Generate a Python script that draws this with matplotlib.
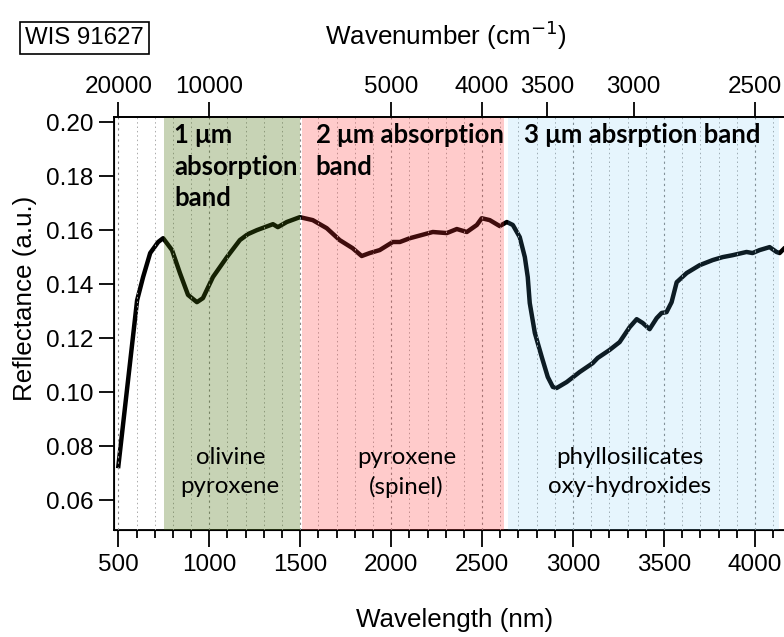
import numpy as np
import matplotlib as mpl
import matplotlib.pyplot as plt
from matplotlib.ticker import MultipleLocator

mpl.use('Agg')

# Spectrum of WIS 91627
wavelength = [500, 603, 636, 675, 719, 746, 795, 839, 883, 932, 965, 1020, 1097,
              1168, 1212, 1262, 1350, 1377, 1426, 1498, 1569, 1646, 1717, 1788,
              1838, 1882, 1937, 2009, 2048, 2103, 2229, 2306, 2361, 2416, 2471,
              2498, 2542, 2597, 2636, 2669, 2707, 2735, 2751, 2762, 2790, 2828,
              2861, 2889, 2910, 2965, 3036, 3108, 3135, 3201, 3256, 3311, 3350,
              3383, 3421, 3460, 3487, 3514, 3542, 3570, 3625, 3696, 3768, 3823,
              3877, 3954, 3987, 4026, 4081, 4119, 4136, 4158]
reflectance = [0.0726, 0.134, 0.1426, 0.1515, 0.1556, 0.157, 0.1526, 0.144, 0.136,
               0.1333, 0.1348, 0.1426, 0.150, 0.1563, 0.1585, 0.160, 0.1622, 0.1611,
               0.163, 0.1648, 0.1637, 0.1607, 0.1563, 0.1533, 0.1504, 0.1515, 0.1526,
               0.1556, 0.1556, 0.157, 0.1593, 0.1589, 0.1604, 0.1593, 0.1619, 0.1644,
               0.1637, 0.1615, 0.163, 0.1619, 0.1574, 0.150, 0.1426, 0.133, 0.1219,
               0.113, 0.1056, 0.1019, 0.1015, 0.1037, 0.1074, 0.1107, 0.1126, 0.1156,
               0.1185, 0.124, 0.127, 0.1256, 0.1233, 0.1274, 0.1293, 0.1296, 0.1333,
               0.1407, 0.1441, 0.147, 0.1489, 0.150, 0.1507, 0.1519, 0.1515, 0.1526,
               0.1537, 0.1519, 0.1515, 0.153]

# absorption band ranges (nm)
band_ranges = [(750, 1500), (1510, 2620), (2645, 4135)]
band_titles = ["1 μm\nabsorption\nband", "2 μm absorption\nband", "3 μm absrption band"]
band_title_x = [806, 1585, 2729]
band_minerals = ["olivine\npyroxene", "pyroxene\n(spinel)", "phyllosilicates\noxy-hydroxides"]
band_mineral_x = [1115, 2085, 3312]

wavenumber_ticks = [20000, 10000, 5000, 4000, 3500, 3000, 2500]
wavelength_ticks = [500, 1000, 1500, 2000, 2500, 3000, 3500, 4000]
reflectance_ticks = [0.06, 0.08, 0.10, 0.12, 0.14, 0.16, 0.18, 0.20]

band_colors = ['#47700b', '#ff3333', '#59bdf2']
band_alphas = [0.3, 0.25, 0.15]

fig = plt.figure(figsize=(7.84, 6.37), dpi=100)
ax = fig.add_axes([0.1454, 0.168, 0.8546, 0.6483])

ax.plot(wavelength, reflectance, color='black', lw=3.2, zorder=2,
        solid_joinstyle='round')

# shaded bands on top of the line (the line shows through, tinted)
for (lo, hi), c, a in zip(band_ranges, band_colors, band_alphas):
    ax.axvspan(lo, hi, color=c, alpha=a, lw=0, zorder=3)

ax.set_xlim(476, 4160)
ax.set_ylim(0.0489, 0.2019)

ax.set_xticks(wavelength_ticks)
ax.xaxis.set_minor_locator(MultipleLocator(100))
ax.set_yticks(reflectance_ticks)
ax.set_yticklabels([f"{v:.2f}" for v in reflectance_ticks])

ax.grid(which='major', axis='x', color='#888888', ls=(0, (2, 3)), lw=0.8, zorder=1)
ax.grid(which='minor', axis='x', color='#aaaaaa', ls=(0, (1.5, 3)), lw=0.7, zorder=1)
ax.set_axisbelow(False)

tick_size = 17.5
tick_font = {'family': 'Liberation Sans', 'size': tick_size}
ax.tick_params(axis='x', which='major', direction='out', length=12, width=1.3, pad=5)
ax.tick_params(axis='x', which='minor', direction='out', length=6, width=1.3)
ax.tick_params(axis='y', which='major', direction='out', length=11, width=1.3, pad=4)
for lab in ax.get_xticklabels() + ax.get_yticklabels():
    lab.set_fontfamily('Liberation Sans')
    lab.set_fontsize(tick_size)

for side in ['left', 'bottom', 'top']:
    ax.spines[side].set_linewidth(1.3)
ax.spines['right'].set_visible(False)

# top axis in wavenumber
top = ax.twiny()
top.set_xlim(ax.get_xlim())
top.set_xticks([1e7 / w for w in wavenumber_ticks])
top.set_xticklabels([str(w) for w in wavenumber_ticks], fontdict=tick_font)
top.tick_params(axis='x', direction='out', length=11, width=1.3, pad=3)
top.spines['right'].set_visible(False)
top.spines['top'].set_linewidth(1.3)

# band labels
for x, t in zip(band_title_x, band_titles):
    ax.text(x, 0.1997, t, ha='left', va='top', fontsize=18.5, fontweight='bold',
            family=['Lato', 'DejaVu Sans'], linespacing=1.38, zorder=5)
for x, t in zip(band_mineral_x, band_minerals):
    ax.text(x, 0.0703, t, ha='center', va='center', fontsize=17.3,
            family=['Lato', 'DejaVu Sans'], linespacing=1.45, zorder=5)

fig.text(0.580, 0.026, "Wavelength (nm)", ha='center', va='center',
         family='Liberation Sans', fontsize=18.7)
fig.text(0.032, 0.532, "Reflectance (a.u.)", ha='center', va='center',
         rotation=90, family='Liberation Sans', fontsize=18.7)
fig.text(0.569, 0.945, "Wavenumber (cm$^{-1}$)", ha='center', va='center',
         family='Liberation Sans', fontsize=18.7)
fig.text(0.108, 0.940, "WIS 91627", ha='center', va='center',
         family='Liberation Sans', fontsize=17.3,
         bbox=dict(boxstyle='square,pad=0.2', fc='white', ec='black', lw=1.2))

fig.savefig('out.png', dpi=100)
